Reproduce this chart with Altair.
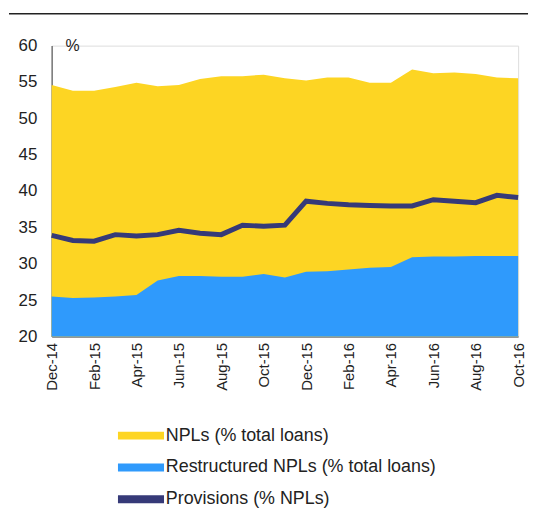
import altair as alt
import pandas as pd

months = ["Dec-14", "Jan-15", "Feb-15", "Mar-15", "Apr-15", "May-15", "Jun-15", "Jul-15",
          "Aug-15", "Sep-15", "Oct-15", "Nov-15", "Dec-15", "Jan-16", "Feb-16", "Mar-16",
          "Apr-16", "May-16", "Jun-16", "Jul-16", "Aug-16", "Sep-16", "Oct-16"]
npls = [54.6, 53.8, 53.8, 54.3, 54.9, 54.4, 54.6, 55.4, 55.8, 55.8, 56.0, 55.5,
        55.2, 55.6, 55.6, 54.9, 54.9, 56.7, 56.2, 56.3, 56.1, 55.6, 55.5]
restructured = [25.5, 25.3, 25.35, 25.5, 25.7, 27.7, 28.3, 28.3, 28.2, 28.2, 28.6, 28.1,
                28.9, 28.95, 29.2, 29.45, 29.55, 30.9, 31.0, 31.0, 31.05, 31.05, 31.05]
provisions = [33.9, 33.2, 33.1, 34.0, 33.8, 34.0, 34.6, 34.2, 34.0, 35.3, 35.15, 35.3,
              38.6, 38.3, 38.1, 38.0, 37.95, 37.95, 38.8, 38.6, 38.4, 39.4, 39.1]
tick_months = months[::2]
y_ticks = [20, 25, 30, 35, 40, 45, 50, 55, 60]

series = ["NPLs (% total loans)", "Restructured NPLs (% total loans)", "Provisions (% NPLs)"]
colors = ["#FDD523", "#2F9AFC", "#363A78"]

df_npl = pd.DataFrame({"month": months, "value": npls, "series": series[0]})
df_res = pd.DataFrame({"month": months, "value": restructured, "series": series[1]})
df_prov = pd.DataFrame({"month": months, "value": provisions, "series": series[2]})

FONT = "Liberation Sans"

x_enc = alt.X("month:O", sort=months,
              scale=alt.Scale(type="point", padding=0),
              axis=alt.Axis(values=tick_months, labelAngle=-90, labelAlign="right",
                            labelBaseline="middle", ticks=False, labelPadding=6,
                            labelFontSize=15, labelColor="#222", labelFont=FONT,
                            domainColor="#777", domainWidth=1.5, title=None, grid=False))
y_scale = alt.Scale(domain=[20, 60], zero=False, nice=False)
y_axis = alt.Axis(values=y_ticks, ticks=False, labelPadding=15,
                  labelFontSize=17, labelColor="#222", labelFont=FONT, domainColor="#777",
                  domainWidth=1.5, title=None, grid=False, minExtent=43, maxExtent=43,
                  labelOverlap=False)
y_enc = alt.Y("value:Q", scale=y_scale, axis=y_axis)

color = alt.Color("series:N", scale=alt.Scale(domain=series, range=colors),
                  legend=alt.Legend(title=None, orient="none", legendX=74, legendY=377,
                                    symbolType="M-1.45,-0.25H1.45V0.25H-1.45Z",
                                    symbolSize=1024, symbolStrokeWidth=0,
                                    labelFontSize=18, labelFont=FONT, labelColor="#222",
                                    labelLimit=400,
                                    rowPadding=7, labelOffset=9, direction="vertical",
                                    padding=0))

area_npl = alt.Chart(df_npl).mark_area(opacity=1, line=False).encode(
    x=x_enc, y=y_enc, y2=alt.datum(20), color=color)
area_res = alt.Chart(df_res).mark_area(opacity=1).encode(
    x=x_enc, y=y_enc, y2=alt.datum(20), color=color)
line_prov = alt.Chart(df_prov).mark_line(strokeWidth=5).encode(
    x=x_enc, y=y_enc, color=color)

pct = alt.Chart(pd.DataFrame({"t": ["%"]})).mark_text(
    font=FONT, fontSize=16, color="#222", align="left", baseline="middle").encode(
    x=alt.value(14), y=alt.value(0), text="t:N")
top_rule = alt.Chart(pd.DataFrame({"a": [0]})).mark_rule(color="#222", strokeWidth=1.5).encode(
    x=alt.value(-43), x2=alt.value(480), y=alt.value(-32))

chart = alt.layer(area_npl, area_res, line_prov, pct, top_rule).properties(
    width=470, height=293,
    padding={"left": 0, "top": 3, "right": 4, "bottom": 0},
).configure_view(stroke=None).configure(background="white")

chart.save("out.html", embed_options={"renderer": "svg", "actions": False})
